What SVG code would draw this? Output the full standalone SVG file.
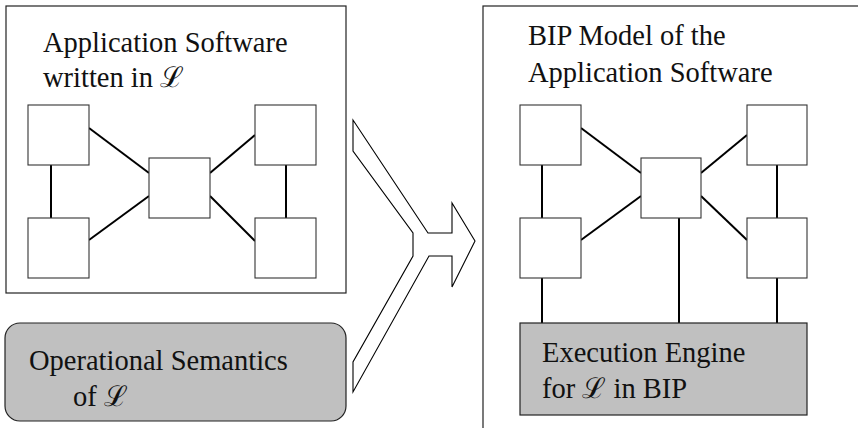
<svg xmlns="http://www.w3.org/2000/svg" width="858" height="428" viewBox="0 0 858 428">
<style>
.frame{fill:#fff;stroke:#222;stroke-width:1.2}
.box{fill:#fff;stroke:#333;stroke-width:1.1}
.gray{fill:#c0c0c0;stroke:#222;stroke-width:1.2}
.link{stroke:#000;stroke-width:2;fill:none}
.arrow{fill:#fff;stroke:#000;stroke-width:1.1;stroke-linejoin:miter}
</style>
<g id="app-software">
<rect class="frame" x="6" y="6" width="340" height="287"/>
<text x="43" y="52" font-family="Liberation Serif, serif" font-size="28.5" fill="#111">Application Software</text>
<text x="43" y="87" font-family="Liberation Serif, serif" font-size="28.5" fill="#111">written in ℒ</text>
</g>
<g id="bip-model">
<rect class="frame" x="483" y="6" width="420" height="460"/>
<text x="528" y="45" font-family="Liberation Serif, serif" font-size="28.5" fill="#111">BIP Model of the</text>
<text x="528" y="82" font-family="Liberation Serif, serif" font-size="28.5" fill="#111">Application Software</text>
</g>
<g id="op-semantics">
<rect class="gray" x="5" y="323" width="341" height="98" rx="15" ry="15"/>
<text x="29" y="370" font-family="Liberation Serif, serif" font-size="28.5" fill="#111">Operational Semantics</text>
<text x="73" y="406" font-family="Liberation Serif, serif" font-size="28.5" fill="#111">of ℒ</text>
</g>
<g id="transform-arrow">
<path class="arrow" d="M353,128 L353,151 L413,233 L413,256 L353,362 L353,392 L429,256 L452,256 L452,287 L475,241 L452,203 L452,233 L428,233 L353,120 Z"/>
</g>
<g id="connectors">
<line class="link" x1="51" y1="165" x2="51" y2="218"/>
<line class="link" x1="286" y1="165" x2="286" y2="218"/>
<line class="link" x1="89" y1="128" x2="149" y2="173"/>
<line class="link" x1="89" y1="240" x2="149" y2="196"/>
<line class="link" x1="210" y1="173" x2="255" y2="135"/>
<line class="link" x1="210" y1="196" x2="255" y2="241"/>
<line class="link" x1="542" y1="165" x2="542" y2="218"/>
<line class="link" x1="542" y1="278" x2="542" y2="323"/>
<line class="link" x1="679" y1="218" x2="679" y2="323"/>
<line class="link" x1="777" y1="165" x2="777" y2="218"/>
<line class="link" x1="777" y1="278" x2="777" y2="323"/>
<line class="link" x1="581" y1="128" x2="641" y2="173"/>
<line class="link" x1="581" y1="240" x2="641" y2="196"/>
<line class="link" x1="701" y1="173" x2="747" y2="135"/>
<line class="link" x1="701" y1="196" x2="747" y2="240"/>
</g>
<g id="l-top-left"><rect class="box" x="28" y="105" width="61" height="60"/></g>
<g id="l-bottom-left"><rect class="box" x="28" y="218" width="61" height="60"/></g>
<g id="l-center"><rect class="box" x="149" y="158" width="61" height="60"/></g>
<g id="l-top-right"><rect class="box" x="255" y="105" width="61" height="60"/></g>
<g id="l-bottom-right"><rect class="box" x="255" y="218" width="61" height="60"/></g>
<g id="r-top-left"><rect class="box" x="520" y="105" width="61" height="60"/></g>
<g id="r-bottom-left"><rect class="box" x="520" y="218" width="61" height="60"/></g>
<g id="r-center"><rect class="box" x="641" y="158" width="60" height="60"/></g>
<g id="r-top-right"><rect class="box" x="747" y="105" width="60" height="60"/></g>
<g id="r-bottom-right"><rect class="box" x="747" y="218" width="60" height="60"/></g>
<g id="exec-engine">
<rect class="gray" x="520" y="323" width="287" height="92"/>
<text x="542" y="362" font-family="Liberation Serif, serif" font-size="28.5" fill="#111">Execution Engine</text>
<text x="542" y="398" font-family="Liberation Serif, serif" font-size="28.5" fill="#111">for ℒ in BIP</text>
</g>
</svg>
